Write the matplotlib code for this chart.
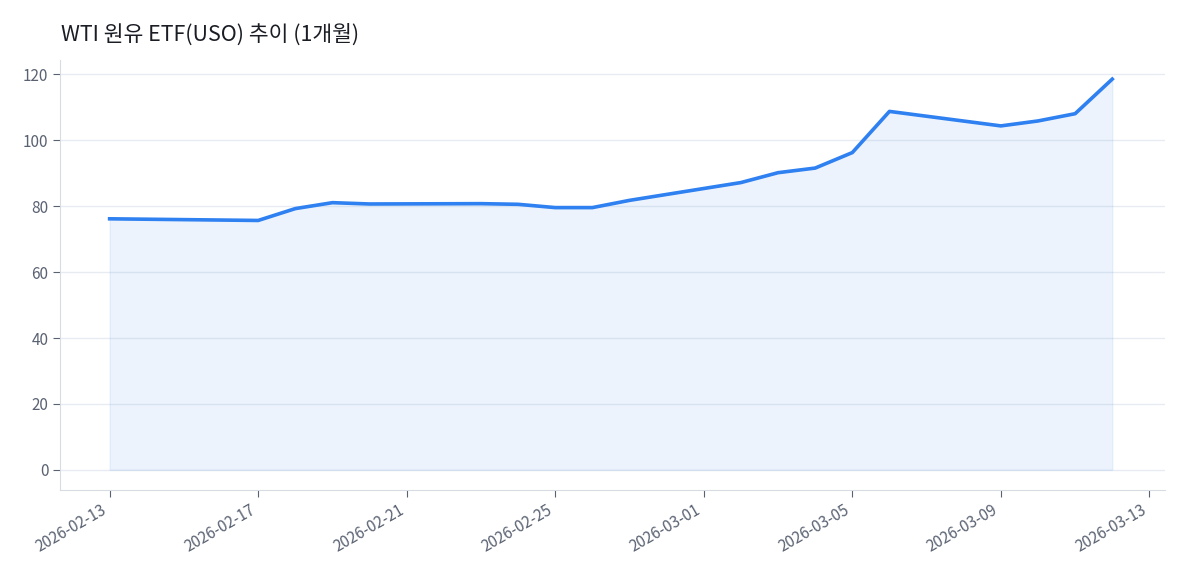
import matplotlib
matplotlib.use('Agg')
import matplotlib.pyplot as plt
import matplotlib.dates as mdates
import numpy as np

plt.rcParams['font.family'] = ['Noto Sans CJK KR', 'DejaVu Sans']

dates = ['2026-02-13', '2026-02-17', '2026-02-18', '2026-02-19', '2026-02-20',
         '2026-02-23', '2026-02-24', '2026-02-25', '2026-02-26', '2026-02-27',
         '2026-03-02', '2026-03-03', '2026-03-04', '2026-03-05', '2026-03-06',
         '2026-03-09', '2026-03-10', '2026-03-11', '2026-03-12']
prices = [76.2, 75.7, 79.3, 81.1, 80.7, 80.8, 80.6, 79.6, 79.6, 81.8,
          87.2, 90.2, 91.6, 96.3, 108.8, 104.4, 105.9, 108.1, 118.6]

x = np.array(dates, dtype='datetime64[D]')

fig = plt.figure(figsize=(11.79, 5.85), dpi=100)
ax = fig.add_axes([0.051, 0.163, 0.937, 0.735])
ax.plot(x, prices, color='#2f80f0', lw=2.6, zorder=3)
ax.fill_between(x, prices, 0, color='#2f80f0', alpha=0.09, zorder=2)

ax.set_ylim(-6, 124.5)
ax.set_yticks([0, 20, 40, 60, 80, 100, 120])
ax.set_xlim(np.datetime64('2026-02-11T16'), np.datetime64('2026-03-13T10'))
ax.xaxis.set_major_locator(mdates.DayLocator(bymonthday=[1, 5, 9, 13, 17, 21, 25]))
ax.xaxis.set_major_formatter(mdates.DateFormatter('%Y-%m-%d'))
plt.setp(ax.get_xticklabels(), rotation=30, ha='right')

ax.grid(axis='y', color='#e8ecf2', lw=1)
ax.set_axisbelow(True)
for s in ['top', 'right']:
    ax.spines[s].set_visible(False)
for s in ['left', 'bottom']:
    ax.spines[s].set_color('#d8dce2')
ax.tick_params(colors='#5a6272', labelsize=11, length=5)

fig.text(0.052, 0.93, 'WTI 원유 ETF(USO) 추이 (1개월)', fontsize=15.5, color='#1a1d24')
fig.savefig('out.png', dpi=100)
